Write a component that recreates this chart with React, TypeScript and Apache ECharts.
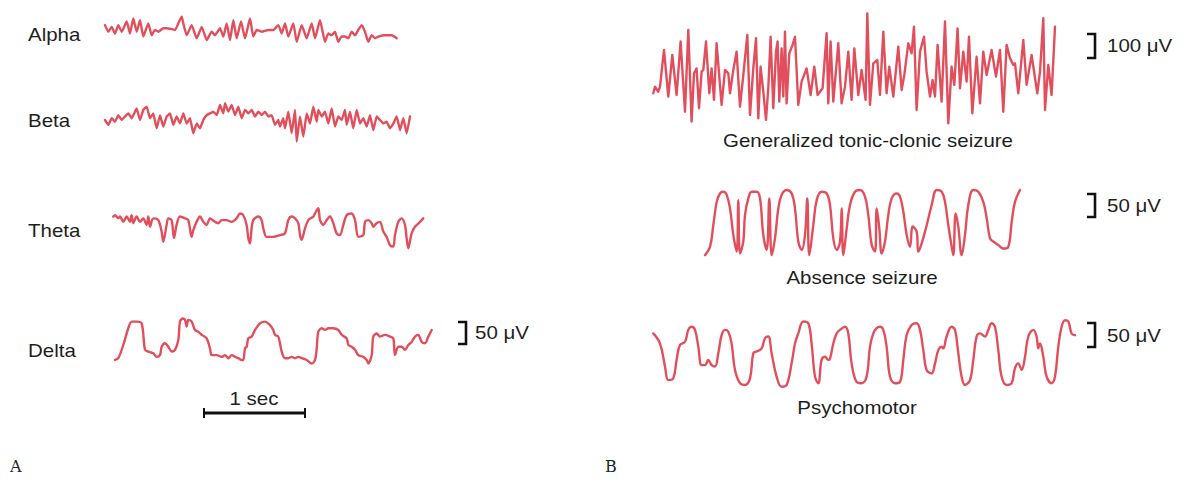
import React, { useEffect, useRef } from "react";
import * as echarts from "echarts";

// time in ms, amplitude in µV
const alpha: [number, number][] = [
  [0, 15], [33, 0], [67, 11], [100, -4], [133, 15], [167, 0], [217, 23], [250, -4], [283, 30], [317, 0],
  [350, 26], [383, -11], [433, 19], [467, -8], [500, 4], [533, 0], [583, 8], [617, 8], [700, 4], [733, 19],
  [767, 34], [783, 19], [817, -8], [867, 15], [917, -15], [967, 11], [1017, -19], [1067, 0], [1100, -8], [1150, 8],
  [1183, -11], [1217, 19], [1250, -19], [1283, 26], [1317, -15], [1360, 23], [1400, -15], [1450, 30], [1483, -11], [1517, 4],
  [1567, 0], [1633, 4], [1683, 4], [1733, 15], [1767, -4], [1800, 19], [1833, -11], [1883, 19], [1917, -23], [1967, 15],
  [2017, -15], [2067, 19], [2100, -15], [2150, 26], [2200, -23], [2233, -4], [2267, -8], [2300, 0], [2333, -23], [2367, -11],
  [2400, -11], [2433, -15], [2467, 0], [2500, -8], [2533, 4], [2567, 15], [2600, 0], [2633, -23], [2667, -8], [2700, -15],
  [2733, -11], [2800, -8], [2867, -8], [2917, -15],
];

const beta: [number, number][] = [
  [0, 0], [33, -11], [67, 4], [100, -4], [133, 11], [167, 0], [200, 8], [233, 15], [267, 4], [300, 19],
  [317, 26], [350, 0], [383, 23], [417, 30], [450, 4], [483, 15], [517, -19], [550, 11], [583, -15], [617, 8],
  [650, 15], [683, -11], [717, 8], [750, -8], [783, 15], [817, -8], [850, 4], [883, -30], [917, -8], [950, -19],
  [983, 0], [1017, 11], [1050, 15], [1083, 19], [1117, 11], [1150, 34], [1183, 15], [1200, 38], [1233, 19], [1267, 34],
  [1300, 11], [1333, 30], [1367, 4], [1400, 23], [1433, 15], [1467, 23], [1500, 8], [1533, 19], [1567, 11], [1600, 19],
  [1633, 8], [1667, 11], [1700, -11], [1733, 0], [1750, -15], [1783, 4], [1800, -19], [1833, 19], [1867, -30], [1900, 23],
  [1917, -49], [1950, 8], [1983, -38], [2017, 15], [2050, -8], [2083, 30], [2117, -4], [2133, 23], [2167, 8], [2200, 19],
  [2233, -8], [2267, 26], [2300, -15], [2333, 8], [2367, 0], [2400, 23], [2417, -11], [2450, 19], [2483, -19], [2517, 23],
  [2550, -8], [2583, 4], [2617, -15], [2650, 11], [2683, -23], [2717, 8], [2750, 0], [2783, -8], [2817, -4], [2850, -19],
  [2883, -8], [2917, 8], [2950, -23], [2983, 4], [3017, -30], [3050, 8],
];

const theta: [number, number][] = [
  [0, 23], [17, 26], [50, 19], [67, 23], [100, 11], [133, 23], [167, 11], [183, 26], [200, 8], [233, 23],
  [267, 11], [300, 19], [333, 4], [350, 23], [367, 0], [400, 19], [450, 15], [483, -11], [500, -34], [533, 4],
  [550, 19], [583, 15], [607, -26], [633, 4], [667, 23], [717, 19], [750, 15], [783, -23], [800, -8], [833, 11],
  [867, 23], [900, 11], [933, 4], [967, 19], [1017, 11], [1050, 8], [1083, 15], [1133, 15], [1183, 11], [1233, 19],
  [1267, 30], [1300, 26], [1333, 4], [1350, -26], [1367, -38], [1383, -4], [1400, 15], [1450, 23], [1483, 15], [1500, -4],
  [1533, -23], [1600, -23], [1667, -19], [1717, -15], [1750, 15], [1783, 23], [1817, 19], [1850, 8], [1867, -19], [1883, -30],
  [1917, -4], [1950, 15], [2000, 23], [2017, 30], [2050, 42], [2067, 15], [2100, 4], [2133, 15], [2167, 23], [2200, 8],
  [2233, -15], [2267, -19], [2300, 4], [2333, 26], [2383, 30], [2417, 15], [2450, -23], [2500, -19], [2517, 11], [2550, 15],
  [2583, 8], [2600, 0], [2633, 8], [2667, 11], [2700, -11], [2733, -23], [2767, -42], [2800, -45], [2817, -19], [2850, 11],
  [2883, 19], [2917, 4], [2933, -26], [2950, -49], [2983, -15], [3017, 0], [3067, 11], [3100, 19],
];

const delta: [number, number][] = [
  [0, -43], [33, -39], [83, -9], [133, 29], [167, 44], [217, 44], [267, 40], [300, -20], [333, -24], [383, -28],
  [417, -36], [450, -32], [467, -13], [500, -5], [533, -13], [567, -24], [600, -20], [633, 2], [650, 44], [677, 51],
  [700, 48], [717, 33], [733, 48], [767, 44], [800, 25], [833, 21], [867, 14], [917, 6], [950, -17], [967, -32],
  [1017, -32], [1067, -36], [1100, -32], [1133, -39], [1167, -32], [1200, -36], [1233, -39], [1267, -43], [1283, -43], [1300, -17],
  [1317, -13], [1333, 6], [1367, 10], [1400, 25], [1450, 40], [1500, 44], [1550, 36], [1583, 25], [1600, 14], [1633, 10],
  [1667, -24], [1700, -39], [1733, -39], [1767, -36], [1800, -39], [1833, -36], [1867, -39], [1917, -43], [1967, -51], [2000, -43],
  [2017, -17], [2033, 21], [2067, 29], [2100, 25], [2133, 29], [2183, 29], [2233, 25], [2267, 14], [2317, 6], [2333, -9],
  [2367, -13], [2400, -20], [2433, -32], [2483, -36], [2517, -43], [2533, -51], [2567, -32], [2583, 10], [2617, 17], [2650, 10],
  [2700, 14], [2750, 10], [2783, 6], [2800, -32], [2833, -13], [2867, -13], [2900, -20], [2933, -9], [2967, -2], [3000, 10],
  [3033, 14], [3067, -2], [3100, -5], [3133, 10], [3167, 25],
];

const tonicClonic: [number, number][] = [
  [0, -118], [17, -88], [50, -111], [67, -88], [107, 79], [150, -133], [190, 56], [233, -126], [273, 117], [317, -202],
  [350, 170], [383, -247], [407, -27], [433, -5], [457, -186], [483, -20], [500, -12], [527, 117], [560, -118], [583, -5],
  [607, -148], [633, 109], [683, -171], [717, -12], [750, -27], [767, -118], [800, -12], [833, 71], [867, -179], [900, -35],
  [940, 147], [967, -217], [1000, -5], [1027, 132], [1050, -232], [1073, 3], [1100, -111], [1127, -239], [1150, -95], [1173, 139],
  [1200, -186], [1227, 71], [1243, 117], [1260, -156], [1283, 86], [1300, -133], [1317, 162], [1333, -164], [1360, 64], [1393, 102],
  [1417, 139], [1450, -171], [1483, -65], [1533, -5], [1573, -126], [1610, 3], [1643, -126], [1693, -95], [1733, 155], [1750, -164],
  [1773, 117], [1800, -156], [1850, 109], [1883, -164], [1917, -88], [1950, 71], [1983, -148], [2010, 86], [2050, -126], [2083, -12],
  [2123, -148], [2140, 245], [2167, -171], [2200, 18], [2240, 33], [2267, -126], [2300, 162], [2333, -118], [2360, 3], [2400, -133],
  [2450, 94], [2483, -103], [2510, -35], [2550, 109], [2583, 64], [2607, 185], [2633, -194], [2667, 71], [2707, 139], [2733, -20],
  [2767, -133], [2793, -58], [2817, -133], [2843, 102], [2883, -156], [2917, 208], [2950, -255], [2983, 3], [3010, -80], [3043, 177],
  [3067, -95], [3100, 71], [3133, -65], [3157, 139], [3190, -209], [3233, 48], [3267, -164], [3300, 71], [3333, -35], [3383, 79],
  [3427, -42], [3467, 79], [3500, -202], [3533, 102], [3567, 41], [3600, 11], [3617, 18], [3650, -118], [3700, 124], [3733, -80],
  [3783, 56], [3840, -118], [3867, -20], [3900, 223], [3917, -194], [3950, 11], [3983, -126], [4017, 185],
];

const absence: [number, number][] = [
  [0, -76], [50, -57], [83, -8], [117, 45], [150, 64], [183, 68], [217, 61], [250, 30], [283, -30], [317, -68],
  [333, 49], [350, -72], [383, -45], [400, 15], [433, 53], [467, 68], [517, 68], [550, 53], [583, -30], [617, -64],
  [643, 53], [667, -76], [700, -38], [733, 30], [767, 61], [817, 72], [867, 64], [900, 30], [933, -45], [967, -64],
  [1000, -30], [1023, 53], [1043, -76], [1083, -8], [1117, 49], [1167, 68], [1217, 64], [1250, 38], [1283, -38], [1317, -64],
  [1350, -45], [1367, 30], [1383, -76], [1417, -15], [1450, 38], [1500, 68], [1550, 72], [1600, 57], [1633, 15], [1667, -53],
  [1700, -68], [1717, 30], [1743, -15], [1767, -72], [1800, -45], [1833, 15], [1867, 53], [1917, 64], [1950, 57], [1983, 23],
  [2017, -30], [2050, -57], [2077, -11], [2117, -23], [2133, -68], [2167, -49], [2217, -8], [2267, 38], [2317, 72], [2367, 68],
  [2400, 45], [2433, -8], [2467, -57], [2483, -76], [2507, 19], [2533, -11], [2567, -76], [2600, -30], [2633, 38], [2683, 72],
  [2733, 68], [2783, 45], [2817, 8], [2850, -38], [2883, -45], [2933, -53], [2983, -61], [3033, -57], [3067, 0], [3100, 45],
  [3150, 72],
];

const psychomotor: [number, number][] = [
  [0, 49], [67, 26], [117, -26], [150, -57], [200, -53], [233, -11], [267, 23], [317, 30], [350, 57], [383, 64],
  [417, 57], [450, 19], [483, -23], [517, -23], [550, -11], [583, -23], [617, -26], [650, 4], [683, 45], [717, 57],
  [750, 53], [783, 26], [817, -34], [867, -64], [917, -68], [967, -53], [1000, 4], [1033, 8], [1083, 15], [1117, 38],
  [1150, 42], [1183, 4], [1233, -49], [1283, -72], [1333, -68], [1383, -19], [1417, 26], [1450, 49], [1500, 76], [1550, 72],
  [1583, 26], [1617, -49], [1650, -64], [1683, -11], [1717, -4], [1750, -11], [1767, -8], [1800, 26], [1833, 49], [1867, 57],
  [1917, 64], [1950, 49], [1983, -19], [2033, -61], [2083, -64], [2133, -49], [2167, 19], [2200, 49], [2233, 61], [2267, 64],
  [2300, 57], [2333, 19], [2367, -49], [2417, -64], [2467, -61], [2500, -11], [2533, 45], [2583, 68], [2633, 72], [2667, 57],
  [2700, 11], [2733, -34], [2783, -42], [2817, -19], [2850, 11], [2883, 19], [2900, 15], [2933, 42], [2983, 64], [3017, 57],
  [3050, 4], [3083, -49], [3117, -68], [3167, -57], [3200, -11], [3233, 42], [3267, 49], [3317, 42], [3350, 57], [3383, 72],
  [3417, 64], [3450, 11], [3483, -49], [3533, -68], [3583, -64], [3617, -30], [3650, -19], [3683, -34], [3717, -4], [3750, 42],
  [3800, 57], [3833, 42], [3850, 15], [3867, 26], [3900, -4], [3933, -49], [3983, -64], [4017, -49], [4050, 19], [4083, 64],
  [4117, 79], [4150, 76], [4183, 49], [4217, 45],
];

const rhythmLabels = ["Alpha", "Beta", "Theta", "Delta"];
const seizureLabels = ["Generalized tonic-clonic seizure", "Absence seizure", "Psychomotor"];
const scaleLabels = ["50 μV", "100 μV", "50 μV", "50 μV"];
const timeLabel = "1 sec";
const panelLabels = ["A", "B"];

const LINE = "#e14f5c";
const TEXT = "#1e1e1e";
const MS_PER_PX = 10;
const HALF = 30;
const SANS = "'Liberation Sans', Arial, Helvetica, sans-serif";
const SX = 1.17;

export default function App() {
  const ref = useRef<HTMLDivElement>(null);
  useEffect(() => {
    const chart = echarts.init(ref.current!, null, { renderer: "svg" });
    const traces = [
      { data: alpha, left: 105, base: 31.7, uv: 2.27, smooth: 0.15 },
      { data: beta, left: 105, base: 120, uv: 2.27, smooth: 0.1 },
      { data: theta, left: 113.3, base: 226.7, uv: 2.27, smooth: 0.3 },
      { data: delta, left: 115, base: 341, uv: 2.27, smooth: 0.3 },
      { data: tonicClonic, left: 653.3, base: 67.3, uv: 4.545, smooth: 0 },
      { data: absence, left: 705, base: 221.7, uv: 2.27, smooth: 0.4 },
      { data: psychomotor, left: 653.3, base: 355, uv: 2.27, smooth: 0.4 },
    ];
    const lastT = (d: [number, number][]) => d[d.length - 1][0];
    const grid = traces.map((t) => ({
      left: t.left,
      top: t.base - HALF,
      width: lastT(t.data) / MS_PER_PX,
      height: HALF * 2,
    }));
    const xAxis = traces.map((t, i) => ({
      type: "value", gridIndex: i, min: 0, max: lastT(t.data), show: false,
    }));
    const yAxis = traces.map((t, i) => ({
      type: "value", gridIndex: i, min: -HALF * t.uv, max: HALF * t.uv, show: false,
    }));
    const series = traces.map((t, i) => ({
      type: "line", xAxisIndex: i, yAxisIndex: i, data: t.data,
      symbol: "none", showSymbol: false, smooth: t.smooth, clip: false,
      lineStyle: { color: LINE, width: 2.4, join: "round", cap: "round" },
    }));

    const txt = (text: string, x: number, y: number, align: string, opts: any = {}) => ({
      type: "text", x, y, scaleX: opts.scaleX ?? SX,
      style: {
        text, x: 0, y: 0, fill: opts.fill ?? TEXT,
        fontSize: opts.fontSize ?? 17.5, fontFamily: opts.fontFamily ?? SANS,
        align, textAlign: align, verticalAlign: "middle", textVerticalAlign: "middle",
      },
    });
    const bracket = (x: number, y0: number, y1: number) => ({
      type: "polyline",
      shape: { points: [[x - 8, y0], [x, y0], [x, y1], [x - 8, y1]] },
      style: { stroke: "#111", lineWidth: 2.6, fill: "none" },
    });

    const rhythmY = [35, 121, 231, 351];
    const graphic: any[] = [
      ...rhythmLabels.map((l, i) => txt(l, 28, rhythmY[i], "left")),
      txt(seizureLabels[0], 868, 141, "center"),
      txt(seizureLabels[1], 862, 278, "center"),
      txt(seizureLabels[2], 857, 408, "center"),
      bracket(466, 322, 344), txt(scaleLabels[0], 475, 333, "left"),
      bracket(1095, 34, 58), txt(scaleLabels[1], 1107, 46, "left"),
      bracket(1095, 194, 217), txt(scaleLabels[2], 1107, 206, "left"),
      bracket(1095, 323, 347), txt(scaleLabels[3], 1107, 336, "left"),
      { type: "line", shape: { x1: 204, y1: 413, x2: 305, y2: 413 }, style: { stroke: "#111", lineWidth: 3 } },
      { type: "line", shape: { x1: 204, y1: 408, x2: 204, y2: 418 }, style: { stroke: "#111", lineWidth: 2 } },
      { type: "line", shape: { x1: 305, y1: 408, x2: 305, y2: 418 }, style: { stroke: "#111", lineWidth: 2 } },
      txt(timeLabel, 254, 399, "center"),
      txt(panelLabels[0], 10, 466, "left", { scaleX: 1, fontSize: 16, fontFamily: "'DejaVu Serif', 'Liberation Serif', serif", fill: "#222" }),
      txt(panelLabels[1], 605, 466, "left", { scaleX: 1, fontSize: 16, fontFamily: "'DejaVu Serif', 'Liberation Serif', serif", fill: "#222" }),
    ];

    chart.setOption({
      animation: false,
      backgroundColor: "#ffffff",
      grid, xAxis, yAxis, series, graphic,
    } as any);
    return () => chart.dispose();
  }, []);
  return (
    <div
      ref={ref}
      style={{ position: "fixed", left: 0, top: 0, width: 1183, height: 479, background: "#fff" }}
    />
  );
}
